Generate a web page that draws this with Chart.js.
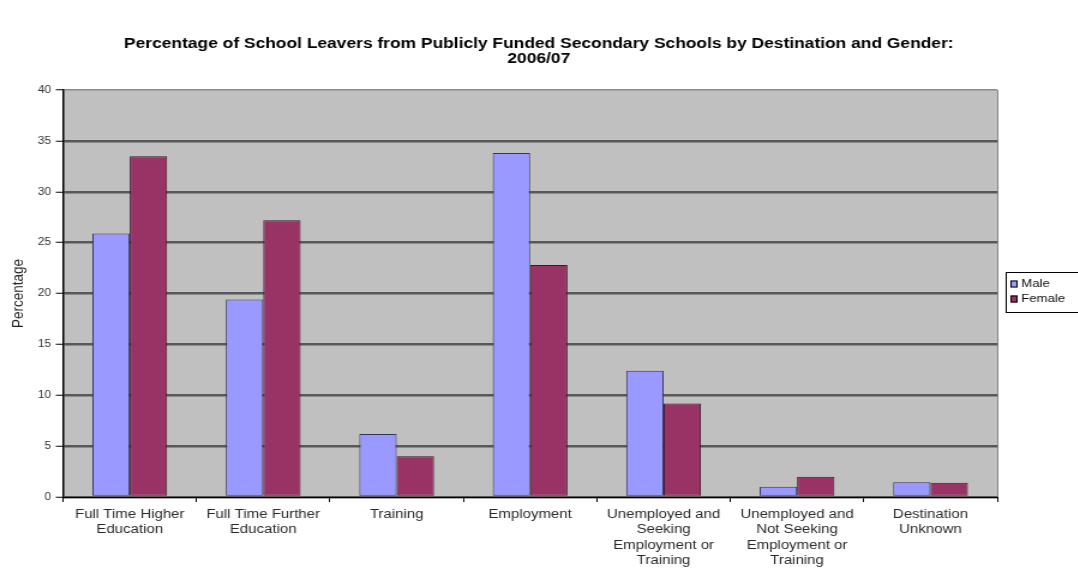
<!DOCTYPE html>
<html>
<head>
<meta charset="utf-8">
<script src="https://cdn.jsdelivr.net/npm/chart.js@4/dist/chart.umd.min.js"></script>
<style>
  html, body { margin: 0; padding: 0; background: #ffffff; overflow: hidden; }
  #wrap { width: 1078px; height: 572px; position: relative; overflow: hidden; }
  /* the chart is laid out on a narrower canvas and widened on screen */
  #chart { position: absolute; left: 0; top: 0; transform-origin: 0 0; transform: scaleX(1.2); }
</style>
</head>
<body>
<div id="wrap"><canvas id="chart" width="898" height="572"></canvas></div>
<script>
// Leaver destinations (multi-line category labels)
const categories = [
  ['Full Time Higher', 'Education'],
  ['Full Time Further', 'Education'],
  ['Training'],
  ['Employment'],
  ['Unemployed and', 'Seeking', 'Employment or', 'Training'],
  ['Unemployed and', 'Not Seeking', 'Employment or', 'Training'],
  ['Destination', 'Unknown']
];

// Percentage of leavers by gender
const maleValues   = [25.9, 19.4, 6.2, 33.8, 12.4, 1.0, 1.45];
const femaleValues = [33.5, 27.2, 4.0, 22.8, 9.2, 2.0, 1.4];

const yTicks = [0, 5, 10, 15, 20, 25, 30, 35, 40];

const titleLines = [
  'Percentage of School Leavers from Publicly Funded Secondary Schools by Destination and Gender:',
  '2006/07'
];

const FONT = "'Liberation Sans', Arial, sans-serif";

// Grey plot area background with a thin right edge
const plotBackground = {
  id: 'plotBackground',
  beforeDraw(chart) {
    const { ctx, chartArea: a } = chart;
    ctx.save();
    ctx.fillStyle = '#c0c0c0';
    ctx.fillRect(a.left, a.top, a.right - a.left, a.bottom - a.top);
    ctx.strokeStyle = '#808080';
    ctx.lineWidth = 1;
    ctx.beginPath();
    ctx.moveTo(a.right + 0.5, a.top);
    ctx.lineTo(a.right + 0.5, a.bottom);
    ctx.stroke();
    ctx.restore();
  }
};

// Two-line bold title centred across the whole canvas
const pageTitle = {
  id: 'pageTitle',
  afterDraw(chart) {
    const { ctx } = chart;
    ctx.save();
    ctx.fillStyle = '#000000';
    ctx.font = 'bold 14.5px ' + FONT;
    ctx.textAlign = 'center';
    ctx.textBaseline = 'middle';
    titleLines.forEach((line, i) => ctx.fillText(line, chart.width / 2, 44 + i * 14.5));
    ctx.restore();
  }
};

// Boxed legend on the right
const boxLegend = {
  id: 'boxLegend',
  afterDraw(chart) {
    const { ctx } = chart;
    const x = 838, y = 272, w = 80, h = 40;
    ctx.save();
    ctx.fillStyle = '#ffffff';
    ctx.fillRect(x, y, w, h);
    ctx.strokeStyle = '#000000';
    ctx.lineWidth = 1;
    ctx.strokeRect(x + 0.5, y + 0.5, w, h);
    ctx.font = '11px ' + FONT;
    ctx.textBaseline = 'middle';
    chart.data.datasets.forEach((ds, i) => {
      const cy = y + 12 + i * 15;
      ctx.fillStyle = ds.backgroundColor;
      ctx.fillRect(x + 4, cy - 3.5, 6, 7);
      ctx.strokeStyle = '#000000';
      ctx.strokeRect(x + 4.5, cy - 3, 5, 6);
      ctx.fillStyle = '#111111';
      ctx.fillText(ds.label, x + 13, cy);
    });
    ctx.restore();
  }
};

new Chart(document.getElementById('chart'), {
  type: 'bar',
  data: {
    labels: categories,
    datasets: [
      {
        label: 'Male',
        data: maleValues,
        backgroundColor: '#9999ff',
        borderColor: '#33335a',
        borderWidth: 1,
        borderSkipped: false,
        categoryPercentage: 0.56,
        barPercentage: 1.0
      },
      {
        label: 'Female',
        data: femaleValues,
        backgroundColor: '#993366',
        borderColor: '#3a1a2a',
        borderWidth: 1,
        borderSkipped: false,
        categoryPercentage: 0.56,
        barPercentage: 1.0
      }
    ]
  },
  options: {
    responsive: false,
    animation: false,
    devicePixelRatio: 1,
    layout: { padding: { left: 0, right: 67, top: 90, bottom: 0 } },
    plugins: {
      legend: { display: false },
      tooltip: { enabled: false },
      title: { display: false }
    },
    scales: {
      x: {
        grid: {
          display: true,
          offset: true,
          drawOnChartArea: false,
          drawTicks: true,
          tickLength: 5,
          tickColor: '#000000',
          color: '#000000'
        },
        border: { display: true, color: '#000000', width: 1 },
        ticks: {
          color: '#2a2a2a',
          font: { family: FONT, size: 12.5, lineHeight: 1.22 },
          padding: 5,
          maxRotation: 0,
          minRotation: 0,
          autoSkip: false
        },
        afterFit(scale) { scale.height = 75; }
      },
      y: {
        min: 0,
        max: 40,
        afterBuildTicks(scale) { scale.ticks = yTicks.map(v => ({ value: v })); },
        grid: {
          color: (c) => (c.tick && c.tick.value === 40) ? '#8a8a8a' : '#585858',
          lineWidth: (c) => (c.tick && c.tick.value === 40) ? 1.5 : 2.5,
          tickColor: '#000000',
          tickWidth: 1,
          tickLength: 6
        },
        border: { display: true, color: '#000000', width: 1.5 },
        ticks: {
          color: '#333333',
          font: { family: FONT, size: 10 },
          padding: 4
        },
        title: {
          display: true,
          text: 'Percentage',
          color: '#222222',
          font: { family: FONT, size: 13.5 },
          padding: { top: 7, bottom: 0 }
        },
        afterFit(scale) { scale.width = 52.5; }
      }
    }
  },
  plugins: [plotBackground, pageTitle, boxLegend]
});
</script>
</body>
</html>
